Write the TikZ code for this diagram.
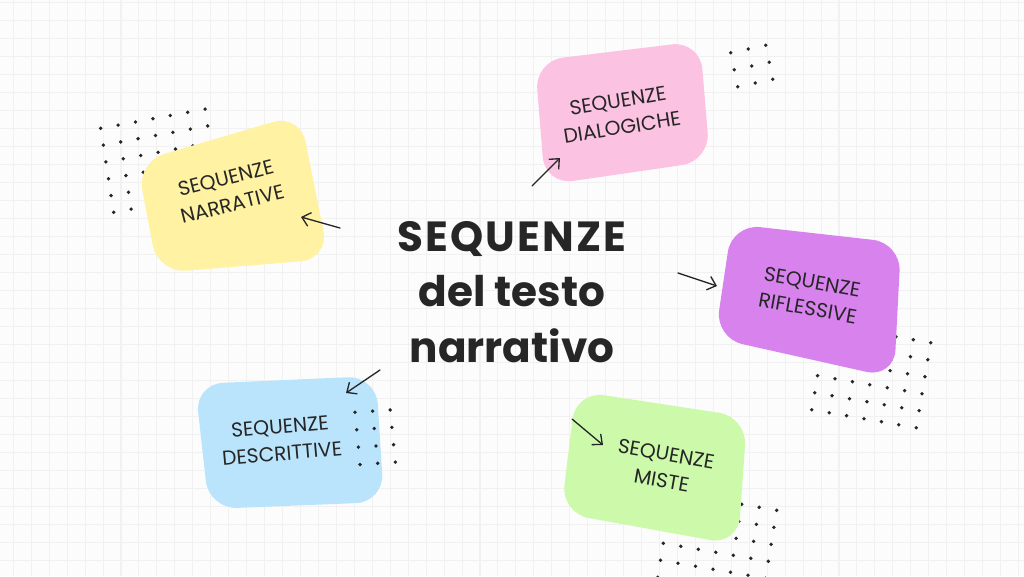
\documentclass[tikz,border=0pt]{standalone}
\usepackage{fontspec}
\setmainfont{Poppins}
\usetikzlibrary{arrows.meta}

\definecolor{paper}{RGB}{252,252,252}
\definecolor{gridline}{RGB}{241,241,241}
\definecolor{ink}{RGB}{38,38,38}
\definecolor{seqyellow}{RGB}{255,243,163}
\definecolor{seqpink}{RGB}{251,194,225}
\definecolor{seqpurple}{RGB}{216,130,238}
\definecolor{seqblue}{RGB}{186,228,252}
\definecolor{seqgreen}{RGB}{204,250,170}

\begin{document}
\begin{tikzpicture}[
x=0.02cm, y=-0.02cm,
blob/.style={rounded corners=16pt},
dot/.style={fill=ink},
seqlabel/.style={align=center, text=ink, inner sep=0pt, font=\fontsize{11.5}{15.3}\selectfont},
title/.style={align=center, text=ink, inner sep=0pt, font=\fontsize{24}{31.7}\selectfont\bfseries},
pointer/.style={draw=ink, line width=0.75pt, line cap=round, -{Straight Barb[length=4.5pt,width=8pt]}},
]
	% paper with a faint grid
	\fill[paper] (0,0) rectangle (1024,576);
	\useasboundingbox (0,0) rectangle (1024,576);
	\foreach \gx in {0,...,56}
		\draw[gridline, line width=0.6pt] ({13.3+17.95*\gx},0) -- ++(0,576);
	\foreach \gy in {0,...,31}
		\draw[gridline, line width=0.6pt] (0,{2.7+18*\gy}) -- ++(1024,0);

	% dot patterns (behind the blobs)
	\foreach \r in {0,...,5}
		\foreach \c in {0,...,6}
			\fill[dot] ({100.7+17.4*\c+2.6*\r},{128.3-3.2*\c+16.8*\r}) circle[radius=1.9];
	\foreach \r in {0,1,2}
		\foreach \c in {0,1,2}
			\fill[dot] ({730.7+17.5*\c+3.5*\r},{52.7-3.7*\c+17*\r}) circle[radius=1.9];
	\foreach \r in {0,...,5}
		\foreach \c in {0,...,6}
			\fill[dot] ({826.3+17.4*\c-2.9*\r},{324.7+3*\c+17*\r}) circle[radius=1.9];
	\foreach \r in {0,...,5}
		\foreach \c in {0,...,6}
			\fill[dot] ({671.7+17.5*\c-2.8*\r},{492.3+3*\c+17*\r}) circle[radius=1.9];

	% blobs
	\fill[seqyellow, blob] (137,162) -- (300,114) -- (329,259) -- (158,273) -- cycle;
	\fill[seqpink, blob] (535,61) -- (700,41) -- (710,161) -- (545,185) -- cycle;
	\fill[seqpurple, blob] (732,224) -- (901,243) -- (894,378) -- (715,338) -- cycle;
	\fill[seqblue, blob] (195,384) -- (376,376) -- (384,502) -- (209,509) -- cycle;
	\fill[seqgreen, blob] (576,391) -- (747,417) -- (738,545) -- (561,513) -- cycle;

	% dots over the blue blob
	\foreach \r in {0,...,3}
		\foreach \c in {0,1,2}
			\fill[dot] ({355+17.6*\c+1.7*\r},{412.3-1.2*\c+17.4*\r}) circle[radius=1.9];

	% labels
	\node[title] (titolo) at (512,292) {{\addfontfeature{LetterSpace=5}SEQUENZE}\\del testo\\narrativo};
	\node[seqlabel, rotate=14] (narrative) at (229,191) {SEQUENZE\\NARRATIVE};
	\node[seqlabel, rotate=9] (dialogiche) at (620,114) {SEQUENZE\\DIALOGICHE};
	\node[seqlabel, rotate=-10] (riflessive) at (810,295) {SEQUENZE\\RIFLESSIVE};
	\node[seqlabel, rotate=5] (descrittive) at (281,440) {SEQUENZE\\DESCRITTIVE};
	\node[seqlabel, rotate=-10] (miste) at (664,467) {SEQUENZE\\MISTE};

	% arrows
	\coordinate (narr-from) at (340,228);
	\coordinate (narr-to) at (301,217);
	\coordinate (dial-from) at (532,186);
	\coordinate (dial-to) at (560,158);
	\coordinate (rifl-from) at (678,273);
	\coordinate (rifl-to) at (717,286);
	\coordinate (desc-from) at (380,370);
	\coordinate (desc-to) at (346,393);
	\coordinate (mist-from) at (572,419);
	\coordinate (mist-to) at (603,445);
	\draw[pointer] (narr-from) -- (narr-to);
	\draw[pointer] (dial-from) -- (dial-to);
	\draw[pointer] (rifl-from) -- (rifl-to);
	\draw[pointer] (desc-from) -- (desc-to);
	\draw[pointer] (mist-from) -- (mist-to);
\end{tikzpicture}
\end{document}
